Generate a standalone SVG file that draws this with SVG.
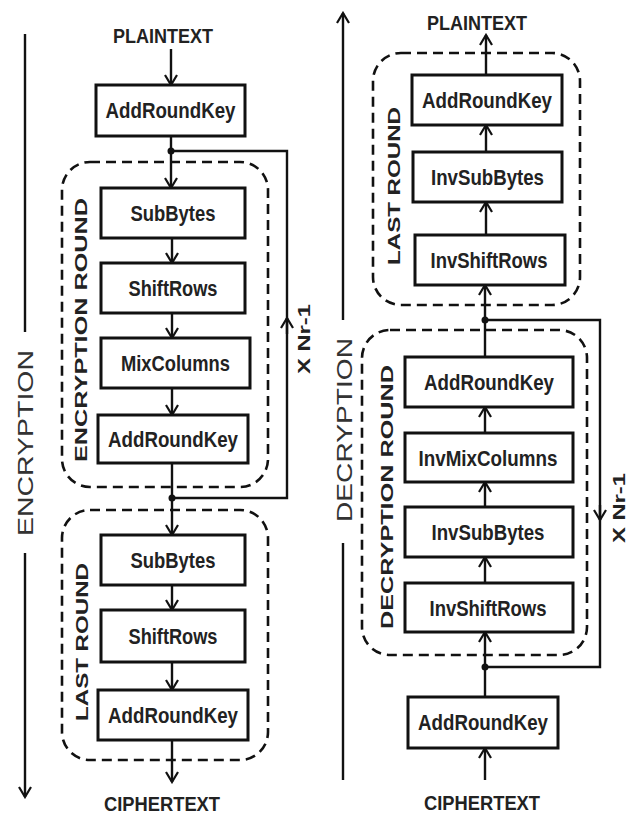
<svg xmlns="http://www.w3.org/2000/svg" width="630" height="814" viewBox="0 0 630 814">
<defs>
<style>
.box{fill:#fff;stroke:#111;stroke-width:3}
.dash{fill:none;stroke:#111;stroke-width:2.6;stroke-dasharray:10 6}
.ln{fill:none;stroke:#111;stroke-width:2.4}
.lbl{font-family:"Liberation Sans",Arial,sans-serif;font-weight:bold;font-size:22px;fill:#222;text-anchor:middle}
.end{font-family:"Liberation Sans",Arial,sans-serif;font-weight:bold;font-size:21px;fill:#222;text-anchor:middle}
.rot{font-family:"Liberation Sans",Arial,sans-serif;font-weight:bold;font-size:16px;fill:#222;text-anchor:middle}
.big{font-family:"Liberation Sans",Arial,sans-serif;font-size:22px;fill:#333;text-anchor:middle}
.dot{fill:#111}
</style>
<marker id="ah" markerWidth="14" markerHeight="14" refX="12" refY="7" orient="auto" markerUnits="userSpaceOnUse">
<path d="M2,1 L12,7 L2,13" fill="none" stroke="#111" stroke-width="2.2"/>
</marker>
</defs>
<rect width="630" height="814" fill="#fff"/>

<g id="side-labels">
<path class="ln" d="M25,34 V332"/>
<path class="ln" d="M25,553 V797" marker-end="url(#ah)"/>
<text class="big" transform="translate(33,443) rotate(-90)" textLength="186" lengthAdjust="spacingAndGlyphs">ENCRYPTION</text>
<path class="ln" d="M343,780 V543"/>
<path class="ln" d="M343,320 V13" marker-end="url(#ah)"/>
<text class="big" transform="translate(352,430) rotate(-90)" textLength="184" lengthAdjust="spacingAndGlyphs">DECRYPTION</text>
</g>

<g id="connectors">
<!-- encryption -->
<path class="ln" d="M171,49 V85" marker-end="url(#ah)"/>
<path class="ln" d="M171,136 V188" marker-end="url(#ah)"/>
<path class="ln" d="M171,151 H287 V498 H172"/>
<path class="ln" d="M287,334 V318" marker-end="url(#ah)"/>
<circle class="dot" cx="171" cy="151" r="3.5"/>
<path class="ln" d="M172,238 V263" marker-end="url(#ah)"/>
<path class="ln" d="M172,313 V338" marker-end="url(#ah)"/>
<path class="ln" d="M172,388 V415" marker-end="url(#ah)"/>
<path class="ln" d="M172,463 V535" marker-end="url(#ah)"/>
<circle class="dot" cx="172" cy="498" r="3.5"/>
<path class="ln" d="M172,585 V610" marker-end="url(#ah)"/>
<path class="ln" d="M172,662 V690" marker-end="url(#ah)"/>
<path class="ln" d="M172,740 V782" marker-end="url(#ah)"/>
<!-- decryption -->
<path class="ln" d="M486,75 V35" marker-end="url(#ah)"/>
<path class="ln" d="M486,152 V125" marker-end="url(#ah)"/>
<path class="ln" d="M486,235 V202" marker-end="url(#ah)"/>
<path class="ln" d="M485,357 V285" marker-end="url(#ah)"/>
<path class="ln" d="M485,320 H600 V667 H485"/>
<path class="ln" d="M600,505 V520" marker-end="url(#ah)"/>
<circle class="dot" cx="485" cy="320" r="3.5"/>
<path class="ln" d="M485,433 V407" marker-end="url(#ah)"/>
<path class="ln" d="M485,507 V482" marker-end="url(#ah)"/>
<path class="ln" d="M485,583 V557" marker-end="url(#ah)"/>
<path class="ln" d="M485,697 V632" marker-end="url(#ah)"/>
<circle class="dot" cx="485" cy="667" r="3.5"/>
<path class="ln" d="M485,780 V748" marker-end="url(#ah)"/>
</g>

<g id="enc-plaintext"><text class="end" x="163" y="43" textLength="100" lengthAdjust="spacingAndGlyphs">PLAINTEXT</text></g>
<g id="enc-ark0"><rect class="box" x="96" y="85" width="149" height="51"/><text class="lbl" x="170.5" y="118" textLength="130" lengthAdjust="spacingAndGlyphs">AddRoundKey</text></g>

<g id="enc-round">
<rect class="dash" x="62" y="162" width="206" height="325" rx="28"/>
<text class="rot" transform="translate(87,330) rotate(-90)" textLength="264" lengthAdjust="spacingAndGlyphs">ENCRYPTION  ROUND</text>
</g>
<g id="enc-subbytes"><rect class="box" x="101" y="188" width="144" height="50"/><text class="lbl" x="173" y="221" textLength="85" lengthAdjust="spacingAndGlyphs">SubBytes</text></g>
<g id="enc-shiftrows"><rect class="box" x="101" y="263" width="144" height="50"/><text class="lbl" x="173" y="296" textLength="89" lengthAdjust="spacingAndGlyphs">ShiftRows</text></g>
<g id="enc-mixcolumns"><rect class="box" x="101" y="338" width="149" height="50"/><text class="lbl" x="175.5" y="371" textLength="109" lengthAdjust="spacingAndGlyphs">MixColumns</text></g>
<g id="enc-ark1"><rect class="box" x="98" y="415" width="150" height="48"/><text class="lbl" x="173" y="447" textLength="130" lengthAdjust="spacingAndGlyphs">AddRoundKey</text></g>
<g id="enc-loop-label"><text class="rot" transform="translate(310,339) rotate(-90)" textLength="70" lengthAdjust="spacingAndGlyphs">X Nr-1</text></g>

<g id="enc-last-round">
<rect class="dash" x="62" y="510" width="206" height="250" rx="28"/>
<text class="rot" transform="translate(88,642) rotate(-90)" textLength="158" lengthAdjust="spacingAndGlyphs">LAST ROUND</text>
</g>
<g id="enc-subbytes2"><rect class="box" x="101" y="535" width="144" height="50"/><text class="lbl" x="173" y="568" textLength="85" lengthAdjust="spacingAndGlyphs">SubBytes</text></g>
<g id="enc-shiftrows2"><rect class="box" x="101" y="610" width="144" height="52"/><text class="lbl" x="173" y="644" textLength="89" lengthAdjust="spacingAndGlyphs">ShiftRows</text></g>
<g id="enc-ark2"><rect class="box" x="98" y="690" width="150" height="50"/><text class="lbl" x="173" y="723" textLength="130" lengthAdjust="spacingAndGlyphs">AddRoundKey</text></g>
<g id="enc-ciphertext"><text class="end" x="162" y="811" textLength="116" lengthAdjust="spacingAndGlyphs">CIPHERTEXT</text></g>

<g id="dec-plaintext"><text class="end" x="477" y="30" textLength="100" lengthAdjust="spacingAndGlyphs">PLAINTEXT</text></g>
<g id="dec-last-round">
<rect class="dash" x="373" y="53" width="207" height="252" rx="28"/>
<text class="rot" transform="translate(400,186) rotate(-90)" textLength="158" lengthAdjust="spacingAndGlyphs">LAST ROUND</text>
</g>
<g id="dec-ark2"><rect class="box" x="412" y="75" width="150" height="50"/><text class="lbl" x="487" y="108" textLength="130" lengthAdjust="spacingAndGlyphs">AddRoundKey</text></g>
<g id="dec-invsubbytes2"><rect class="box" x="413" y="152" width="149" height="50"/><text class="lbl" x="487.5" y="185" textLength="113" lengthAdjust="spacingAndGlyphs">InvSubBytes</text></g>
<g id="dec-invshiftrows2"><rect class="box" x="415" y="235" width="150" height="50"/><text class="lbl" x="489" y="268" textLength="117" lengthAdjust="spacingAndGlyphs">InvShiftRows</text></g>

<g id="dec-round">
<rect class="dash" x="362" y="330" width="225" height="325" rx="28"/>
<text class="rot" transform="translate(393,497) rotate(-90)" textLength="264" lengthAdjust="spacingAndGlyphs">DECRYPTION  ROUND</text>
</g>
<g id="dec-ark1"><rect class="box" x="405" y="357" width="168" height="50"/><text class="lbl" x="489" y="390" textLength="130" lengthAdjust="spacingAndGlyphs">AddRoundKey</text></g>
<g id="dec-invmixcolumns"><rect class="box" x="405" y="433" width="168" height="49"/><text class="lbl" x="488" y="466" textLength="139" lengthAdjust="spacingAndGlyphs">InvMixColumns</text></g>
<g id="dec-invsubbytes"><rect class="box" x="405" y="507" width="168" height="50"/><text class="lbl" x="488" y="540" textLength="113" lengthAdjust="spacingAndGlyphs">InvSubBytes</text></g>
<g id="dec-invshiftrows"><rect class="box" x="405" y="583" width="168" height="49"/><text class="lbl" x="488" y="616" textLength="117" lengthAdjust="spacingAndGlyphs">InvShiftRows</text></g>
<g id="dec-loop-label"><text class="rot" transform="translate(625,508) rotate(-90)" textLength="70" lengthAdjust="spacingAndGlyphs">X Nr-1</text></g>
<g id="dec-ark0"><rect class="box" x="408" y="697" width="150" height="51"/><text class="lbl" x="483" y="730" textLength="130" lengthAdjust="spacingAndGlyphs">AddRoundKey</text></g>
<g id="dec-ciphertext"><text class="end" x="482" y="810" textLength="116" lengthAdjust="spacingAndGlyphs">CIPHERTEXT</text></g>
</svg>
